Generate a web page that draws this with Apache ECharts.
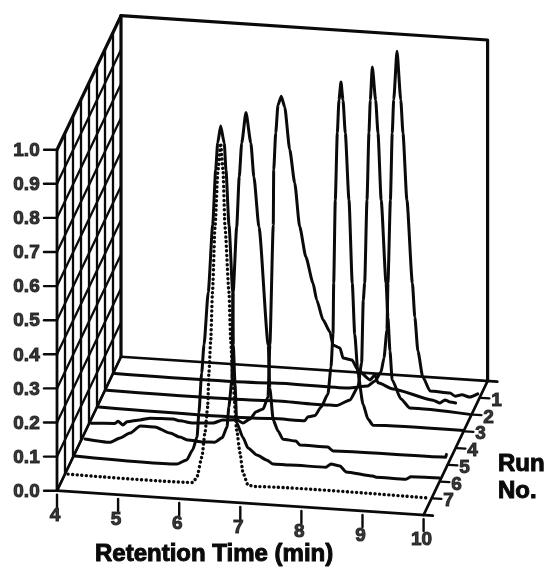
<!DOCTYPE html>
<html>
<head>
<meta charset="utf-8">
<style>html,body{margin:0;padding:0;background:#fff}#c{width:546px;height:568px}</style>
<script src="https://cdn.jsdelivr.net/npm/echarts@6/dist/echarts.min.js"></script>
</head>
<body>
<div id="c"></div>
<script>
// ---------- tick labels ----------
const timeTicks = [4, 5, 6, 7, 8, 9, 10];
const valueTicks = [0.0, 0.1, 0.2, 0.3, 0.4, 0.5, 0.6, 0.7, 0.8, 0.9, 1.0];
const runTicks = [1, 2, 3, 4, 5, 6, 7];
const xTitle = 'Retention Time (min)';
const zTitle = 'Run\nNo.';

// ---------- series values: [retention time, normalised response] ----------
const run1 = [[4.03,0],[6.62,0.003],[7.85,0.003],[8.17,0.013],[8.29,0.029],[8.386,0.056],[8.435,0.098],[8.484,0.181],[8.50,0.319],[8.54,0.562],[8.57,0.759],[8.594,0.857],[8.648,1.0],[8.71,0.858],[8.746,0.761],[8.81,0.566],[8.90,0.323],[8.94,0.224],[8.99,0.125],[9.07,0.05],[9.19,0.01],[9.515,0.008],[9.60,0.0],[9.71,0.005],[9.84,0],[9.97,0.011]];
const run2 = [[4.03,0],[6.75,0.002],[7.57,0],[7.79,0],[8.01,0.019],[8.14,0.059],[8.20,0.13],[8.227,0.314],[8.25,0.365],[8.288,0.609],[8.32,0.806],[8.342,0.902],[8.375,1.0],[8.43,0.903],[8.468,0.807],[8.52,0.611],[8.60,0.369],[8.63,0.27],[8.664,0.17],[8.70,0.086],[8.844,0.032],[8.99,0.007],[9.97,0]];
const run3 = [[4.03,0],[6.88,0],[7.40,0],[7.453,0.012],[7.568,0.017],[7.666,0.043],[7.78,0.083],[7.83,0.163],[7.863,0.26],[7.874,0.409],[7.90,0.653],[7.933,0.85],[7.96,0.947],[7.993,1.0],[8.026,0.948],[8.064,0.851],[8.124,0.656],[8.178,0.412],[8.218,0.264],[8.272,0.147],[8.354,0.06],[8.435,0.017],[8.517,0],[10,0.002]];
const run4 = [[4.04,0.002],[4.425,0.006],[4.475,0.013],[4.556,0.003],[4.62,0.013],[4.835,0.021],[5.0,0.028],[5.375,0.03],[5.49,0.026],[5.70,0.022],[6.03,0.026],[6.19,0.037],[6.42,0.04],[6.52,0.032],[6.635,0.045],[6.73,0.067],[6.85,0.077],[6.93,0.113],[6.96,0.266],[7.016,0.618],[7.023,0.78],[7.056,0.889],[7.093,0.971],[7.147,0.998],[7.203,0.967],[7.285,0.843],[7.367,0.746],[7.448,0.619],[7.55,0.531],[7.666,0.456],[7.727,0.407],[7.83,0.35],[7.944,0.316],[7.993,0.278],[8.108,0.271],[8.157,0.242],[8.304,0.238],[8.40,0.21],[8.60,0.183],[8.68,0.199],[8.73,0.176],[8.975,0.161],[9.63,0.136],[9.745,0.129],[9.826,0.139],[9.908,0.134],[10,0.132]];
const run5 = [[4.065,0.005],[4.475,0],[4.64,0.015],[4.80,0.031],[4.97,0.054],[5.21,0.054],[5.457,0.039],[5.62,0.029],[5.75,0.022],[6.0,0.019],[6.19,0.021],[6.31,0.035],[6.39,0.068],[6.42,0.127],[6.47,0.207],[6.49,0.464],[6.548,0.656],[6.59,0.804],[6.63,0.903],[6.70,0.994],[6.78,0.905],[6.83,0.806],[6.913,0.66],[7.065,0.316],[7.09,0.19],[7.147,0.097],[7.224,0.066],[7.306,0.043],[7.52,0.04],[7.584,0.029],[8.04,0.029],[8.124,0.018],[9.97,0.022],[9.98,0.03]];
const run6 = [[4.03,0.004],[5.70,0],[5.86,0.014],[5.96,0.045],[6.03,0.083],[6.06,0.154],[6.106,0.272],[6.144,0.355],[6.214,0.511],[6.286,0.708],[6.335,0.87],[6.368,0.95],[6.417,1.0],[6.476,0.95],[6.504,0.871],[6.553,0.711],[6.614,0.516],[6.624,0.36],[6.651,0.249],[6.68,0.132],[6.782,0.091],[6.864,0.061],[7.01,0.042],[7.175,0.029],[7.273,0.019],[7.55,0.019],[8.14,0.02],[8.22,0.03],[8.37,0.026],[8.47,0.01],[8.91,0.003],[8.96,0],[9.45,0],[9.53,0.008],[10.0,0.01]];
const run7 = [[4.05,0],[6.095,0],[6.16,0.017],[6.24,0.076],[6.29,0.147],[6.335,0.224],[6.355,0.324],[6.385,0.421],[6.414,0.562],[6.455,0.753],[6.504,0.921],[6.548,1.0],[6.586,0.922],[6.619,0.755],[6.684,0.565],[6.712,0.425],[6.75,0.299],[6.81,0.162],[6.864,0.096],[6.913,0.038],[6.995,0.003],[7.11,0],[9.95,0]];

// ---------- oblique projection of (time, value, run) onto the plane axes ----------
const PX_PER_MIN = 61.1, PX_PER_UNIT = 341;
const DEPTH_X = 8 / PX_PER_MIN, DEPTH_Y = 16.75 / PX_PER_UNIT, TILT = 4.05 / PX_PER_UNIT;
const project = (t, v, run) => {
  const d = 8 - run;
  return [t + d * DEPTH_X, v + d * DEPTH_Y - (t - 4) * TILT];
};

const FONT = 'Liberation Sans';
const INK = '#0a0a0a';
const series = [];
const seg = (pts, width) => series.push({
  type: 'line', data: pts, showSymbol: false, silent: true, z: 2,
  lineStyle: { color: INK, width: width, cap: 'round', join: 'round' }
});

// left wall lattice
for (let r = 0; r <= 8; r++) seg([project(4, 0, r), project(4, 1, r)], r === 0 ? 3.2 : r === 8 ? 2.8 : 2.3);
valueTicks.forEach(v => seg([project(4, v, 8), project(4, v, 0)], v === 1 ? 3.2 : 2.3));
// back wall
seg([project(4, 1, 0), project(10, 1, 0), project(10, 0, 0)], 3.2);
seg([project(4, 0, 0), project(10.16, 0, 0)], 2.6);
// floor edges
seg([project(4, 0, 8), project(10.15, 0, 8)], 2.8);
seg([project(4, 0, 8), project(4, 0, 0)], 2.6);
seg([project(10, 0, 8), project(10, 0, 0)], 2.8);
// ticks
const TIME_TICK = 12 / PX_PER_UNIT, VALUE_TICK = 13 / PX_PER_MIN, RUN_TICK = 0.16;
timeTicks.forEach(t => { const p = project(t, 0, 8); seg([[p[0], p[1] - 0.012], [p[0], p[1] - 0.012 - TIME_TICK]], 2.4); });
valueTicks.forEach(v => { const p = project(4, v, 8); seg([p, [p[0] - VALUE_TICK, p[1]]], 2.4); });
runTicks.forEach(r => seg([project(10.02, 0, r), project(10 + RUN_TICK, 0, r)], 2.4));

// traces
[run1, run2, run3, run4, run5, run6].forEach((run, i) => series.push({
  type: 'line', silent: true, showSymbol: false, z: 3,
  smooth: 0.2, smoothMonotone: 'x',
  data: run.map(p => project(p[0], p[1], i + 1)),
  lineStyle: { color: INK, width: 3, cap: 'round', join: 'round' }
}));
series.push({
  type: 'line', silent: true, showSymbol: false, z: 3,
  smooth: 0.2, smoothMonotone: 'x',
  data: run7.map(p => project(p[0], p[1], 7)),
  lineStyle: { color: INK, width: 3.4, cap: 'round', type: [0.1, 4.5] }
});

// tick labels
const labelSeries = (rows, offset) => series.push({
  type: 'scatter', silent: true, symbolSize: 1, itemStyle: { color: 'rgba(0,0,0,0)' }, z: 4,
  data: rows.map(r => ({ value: r.pos, text: r.text })),
  label: {
    show: true, position: 'inside', offset: offset, formatter: p => p.data.text,
    fontFamily: FONT, fontWeight: 'bold', fontSize: 19, color: INK,
    textBorderColor: INK, textBorderWidth: 1
  }
});
labelSeries(valueTicks.map(v => ({ pos: project(4, v, 8), text: v.toFixed(1) })), [-30.5, 1]);
labelSeries(timeTicks.map(t => ({ pos: project(t, 0, 8), text: String(t) })), [-2, 25]);
labelSeries(runTicks.map(r => ({ pos: project(10, 0, r), text: String(r) })), [17, 3]);

const titleStyle = {
  fontFamily: FONT, fontWeight: 'bold', fontSize: 24, color: INK,
  textBorderColor: INK, textBorderWidth: 1, lineHeight: 27
};
const chart = echarts.init(document.getElementById('c'), null, { renderer: 'canvas' });
chart.setOption({
  animation: false,
  backgroundColor: '#fff',
  title: [
    { text: xTitle, left: 95, top: 541, padding: 0, textStyle: titleStyle },
    { text: zTitle, left: 498, top: 451, padding: 0, textStyle: titleStyle }
  ],
  grid: { left: 0, top: 0, width: 546, height: 568 },
  xAxis: { type: 'value', show: false, min: 4 - 57 / PX_PER_MIN, max: 4 - 57 / PX_PER_MIN + 546 / PX_PER_MIN },
  yAxis: { type: 'value', show: false, min: -(568 - 490.7) / PX_PER_UNIT, max: 490.7 / PX_PER_UNIT },
  series: series
});
</script>
</body>
</html>
